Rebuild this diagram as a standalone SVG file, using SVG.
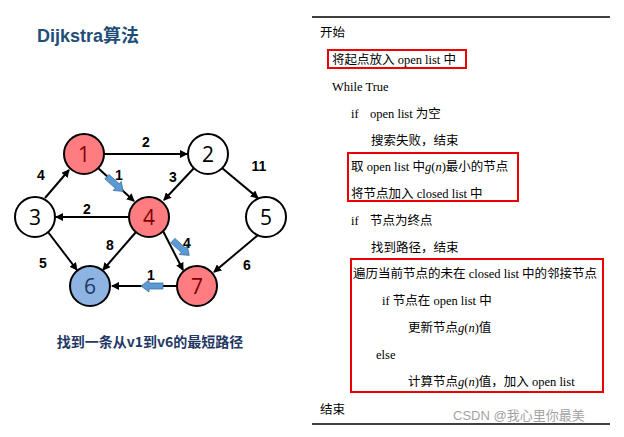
<svg xmlns="http://www.w3.org/2000/svg" width="624" height="437" viewBox="0 0 624 437">
<defs>
<marker id="ah" markerWidth="8" markerHeight="8" refX="7" refY="4" orient="auto" markerUnits="userSpaceOnUse"><path d="M0,0 L8,4 L0,8 z" fill="#000"/></marker>
<polygon id="blk" points="-11,-3 3,-3 3,-6 11,0 3,6 3,3 -11,3" fill="#5b9bd5" stroke="#41719c" stroke-width="0.8"/>
</defs>
<style>
.n{stroke:#000;stroke-width:2}
.nt{font-family:"Open Sans","DejaVu Sans",sans-serif;font-size:21px;text-anchor:middle;dominant-baseline:central}
.w{font-family:"Liberation Sans",Arial,sans-serif;font-weight:bold;font-size:14px;text-anchor:middle}
.e{stroke:#000;stroke-width:2;fill:none;marker-end:url(#ah)}
.t{font-family:"Liberation Serif","Noto Sans CJK SC",serif;font-size:12.5px}
.box{fill:none;stroke:#e00;stroke-width:2}
</style>
<rect width="624" height="437" fill="#fff"/>
<text x="37" y="42" font-family="Liberation Sans,Noto Sans CJK SC,sans-serif" font-weight="bold" font-size="18" fill="#1f4e79">Dijkstra算法</text>
<g id="connectors">
<line class="e" x1="104" y1="154" x2="187" y2="154"/>
<line class="e" x1="98" y1="168" x2="134" y2="201"/>
<line class="e" x1="194" y1="168" x2="164" y2="200"/>
<line class="e" x1="222" y1="168" x2="258" y2="198"/>
<line class="e" x1="45" y1="198" x2="69" y2="170"/>
<line class="e" x1="129" y1="217" x2="56" y2="217"/>
<line class="e" x1="48" y1="232" x2="77" y2="270"/>
<line class="e" x1="136" y1="232" x2="103" y2="270"/>
<line class="e" x1="163" y1="231" x2="183" y2="270"/>
<line class="e" x1="258" y1="235" x2="214" y2="272"/>
<line class="e" x1="177" y1="286" x2="112" y2="286"/>
<use href="#blk" transform="translate(115,184) rotate(42)"/>
<use href="#blk" transform="translate(181,248) rotate(42)"/>
<use href="#blk" transform="translate(152,286) rotate(180)"/>
<text class="w" x="146" y="147">2</text>
<text class="w" x="119" y="180">1</text>
<text class="w" x="173" y="182">3</text>
<text class="w" x="259" y="171">11</text>
<text class="w" x="41" y="180">4</text>
<text class="w" x="87" y="214">2</text>
<text class="w" x="110" y="250">8</text>
<text class="w" x="43" y="268">5</text>
<text class="w" x="187" y="248">4</text>
<text class="w" x="247" y="270">6</text>
<text class="w" x="151" y="280">1</text>
</g>
<g id="n1"><circle class="n" cx="84" cy="154" r="20" fill="#ff7c80"/><text class="nt" x="84" y="154" fill="#7f0000">1</text></g>
<g id="n2"><circle class="n" cx="208" cy="154" r="20" fill="#fff"/><text class="nt" x="208" y="154">2</text></g>
<g id="n3"><circle class="n" cx="35" cy="217" r="20" fill="#fff"/><text class="nt" x="35" y="217">3</text></g>
<g id="n4"><circle class="n" cx="149" cy="217" r="20" fill="#ff7c80"/><text class="nt" x="149" y="217" fill="#7f0000">4</text></g>
<g id="n5"><circle class="n" cx="266" cy="217" r="20" fill="#fff"/><text class="nt" x="266" y="217">5</text></g>
<g id="n6"><circle class="n" cx="90" cy="286" r="20" fill="#8eb4e3"/><text class="nt" x="90" y="286" fill="#1f3864">6</text></g>
<g id="n7"><circle class="n" cx="197" cy="286" r="20" fill="#ff7c80"/><text class="nt" x="197" y="286" fill="#7f0000">7</text></g>
<text x="150" y="347" font-family="Noto Sans CJK SC,sans-serif" font-weight="bold" font-size="14" text-anchor="middle" fill="#1f3864">找到一条从v1到v6的最短路径</text>
<g id="code">
<line x1="312" y1="17" x2="610" y2="17" stroke="#000" stroke-width="1.5"/>
<line x1="312" y1="424" x2="610" y2="424" stroke="#000" stroke-width="1.5"/>
<text class="t" x="320" y="37">开始</text>
<rect class="box" x="328" y="50" width="138" height="18"/>
<text class="t" x="332" y="64">将起点放入 open list 中</text>
<text class="t" x="332" y="91">While True</text>
<text class="t" x="351" y="118">if<tspan x="370">open list 为空</tspan></text>
<text class="t" x="371" y="145">搜索失败，结束</text>
<rect class="box" x="348" y="153" width="170" height="48"/>
<text class="t" x="351" y="171">取 open list 中<tspan font-style="italic">g</tspan>(<tspan font-style="italic">n</tspan>)最小的节点</text>
<text class="t" x="351" y="198">将节点加入 closed list 中</text>
<text class="t" x="351" y="225">if<tspan x="370">节点为终点</tspan></text>
<text class="t" x="371" y="252">找到路径，结束</text>
<rect class="box" x="351" y="259" width="252" height="133"/>
<text class="t" x="353" y="278">遍历当前节点的未在 closed list 中的邻接节点</text>
<text class="t" x="382" y="305">if 节点在 open list 中</text>
<text class="t" x="408" y="332">更新节点<tspan font-style="italic">g</tspan>(<tspan font-style="italic">n</tspan>)值</text>
<text class="t" x="376" y="359">else</text>
<text class="t" x="408" y="386">计算节点<tspan font-style="italic">g</tspan>(<tspan font-style="italic">n</tspan>)值，加入 open list</text>
<text class="t" x="320" y="414">结束</text>
<text x="453" y="420" font-family="Liberation Sans,Noto Sans CJK SC,sans-serif" font-size="13" fill="#999" opacity="0.9">CSDN @我心里你最美</text>
</g>
</svg>
